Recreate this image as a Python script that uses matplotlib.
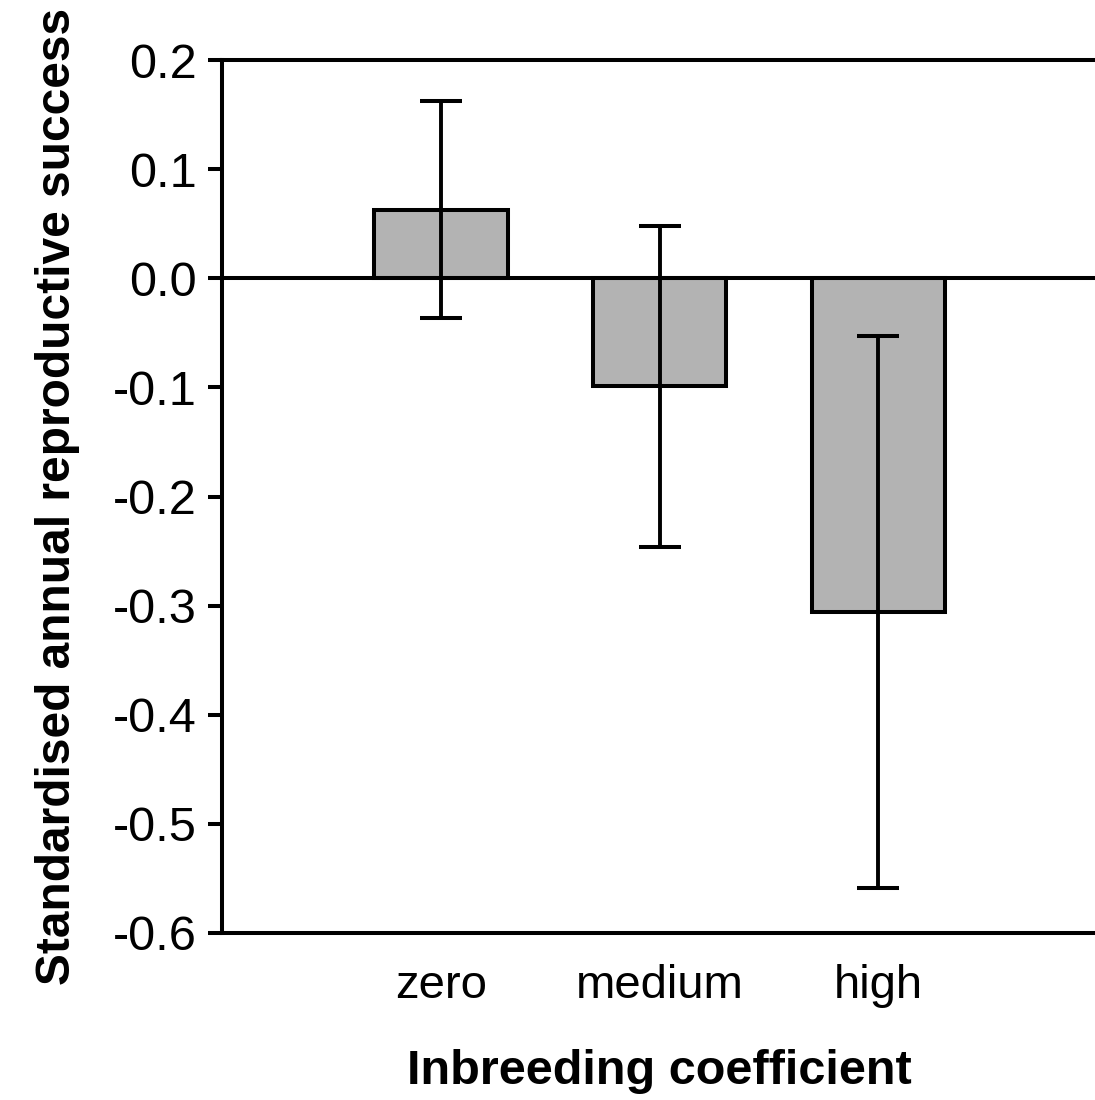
import matplotlib.pyplot as plt
import numpy as np

plt.rcParams['font.family'] = ['Liberation Sans', 'DejaVu Sans']

# data
categories = ["zero", "medium", "high"]
means = [0.063, -0.099, -0.306]
errors = [0.099, 0.147, 0.253]
yticks = [-0.6, -0.5, -0.4, -0.3, -0.2, -0.1, 0.0, 0.1, 0.2]
ytick_labels = ["-0.6", "-0.5", "-0.4", "-0.3", "-0.2", "-0.1", "0.0", "0.1", "0.2"]

fig = plt.figure(figsize=(10.95, 11), dpi=100)
W, H = 1095, 1100
ax = fig.add_axes([222 / W, 1 - 933 / H, (1095 - 222) / W + 0.002, (933 - 60) / H])

x = np.arange(1, len(categories) + 1)
ax.bar(x, means, width=0.61, color="#b3b3b3", edgecolor="black", linewidth=2.9,
       zorder=2)
ax.errorbar(x, means, yerr=errors, fmt="none", ecolor="black", elinewidth=2.8,
            capsize=15, capthick=2.9, zorder=3)
ax.axhline(0, color="black", linewidth=2.9, zorder=4)

ax.set_xlim(0, 4)
ax.set_ylim(-0.6, 0.2)
ax.set_yticks(yticks)
ax.set_yticklabels(ytick_labels)
ax.set_xticks(x)
ax.set_xticklabels(categories)

ax.tick_params(axis="y", direction="out", length=10, width=2.9, labelsize=35, pad=8)
ax.tick_params(axis="x", length=0, labelsize=34, pad=22)

for side in ["left", "bottom", "top"]:
    ax.spines[side].set_linewidth(2.9)
ax.spines["right"].set_visible(False)

ax.set_xlabel("Inbreeding coefficient", fontsize=35, fontweight="bold", labelpad=30)
ax.set_ylabel("Standardised annual reproductive success", fontsize=34.5,
              fontweight="bold", labelpad=24)

fig.savefig("out.png", dpi=100)
